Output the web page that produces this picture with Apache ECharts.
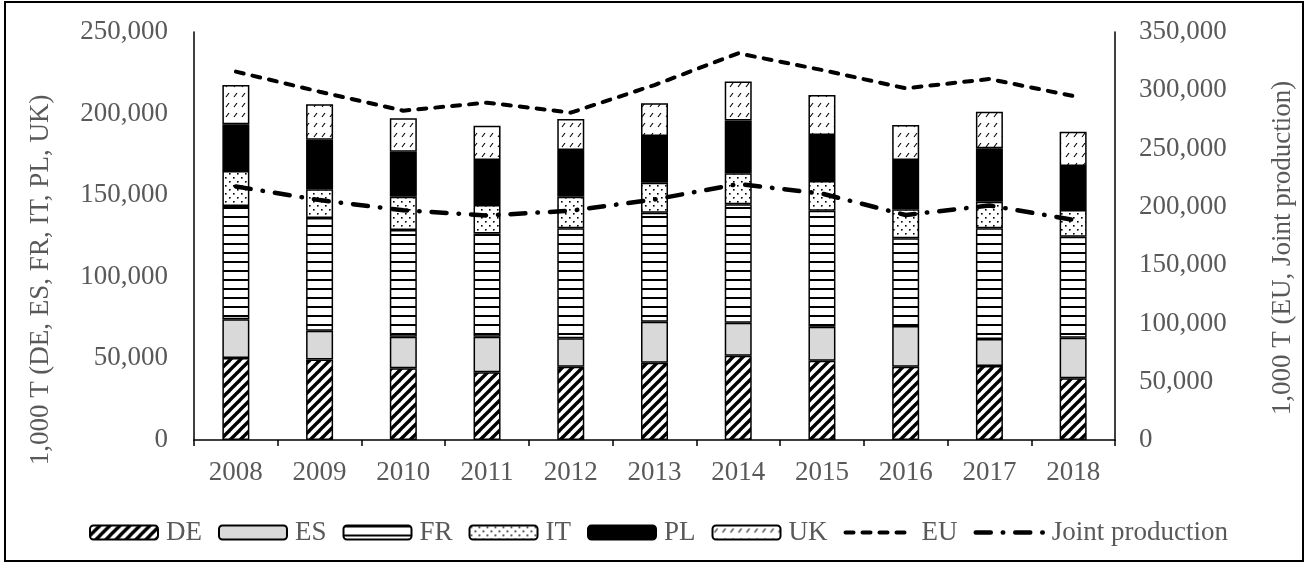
<!DOCTYPE html>
<html><head><meta charset="utf-8">
<script src="https://cdn.jsdelivr.net/npm/echarts@6/dist/echarts.min.js"></script>
<style>html,body{margin:0;padding:0;background:#fff}#c{width:1308px;height:564px}</style>
</head><body><div id="c"></div>
<script>
const years = ['2008','2009','2010','2011','2012','2013','2014','2015','2016','2017','2018'];
const DE = [50200, 49400, 43900, 41500, 44900, 47400, 51700, 48600, 44900, 45300, 37800];
const ES = [23800, 17600, 19400, 21800, 17400, 25100, 20200, 20800, 25000, 16600, 24900];
const FR = [69400, 69000, 65400, 63300, 67400, 66800, 72500, 71100, 53700, 67800, 61900];
const IT = [21400, 17600, 20400, 17400, 19400, 18400, 19000, 18200, 17800, 16300, 16300];
const PL = [28600, 30400, 27600, 27600, 28600, 28600, 32300, 28200, 30200, 32700, 27000];
const UK = [24100, 21700, 20400, 21000, 19000, 20000, 23900, 24500, 21400, 22500, 21000];
const EU = [316000, 298800, 282500, 289400, 280800, 304500, 331700, 317400, 301700, 309700, 295100];
const JOINT = [217500, 205800, 197100, 192600, 196700, 206300, 219600, 211400, 193000, 201200, 188900];

function pat(w, h, draw) {
  const c = document.createElement('canvas');
  c.width = w; c.height = h;
  const g = c.getContext('2d');
  g.fillStyle = '#fff'; g.fillRect(0, 0, w, h);
  g.fillStyle = '#000'; g.strokeStyle = '#000';
  draw(g);
  return { image: c, repeat: 'repeat' };
}
const pDE = pat(10, 10, g => {
  g.lineWidth = 3.4;
  [[-10, 10, 10, -10], [0, 10, 10, 0], [0, 20, 20, 0]].forEach(s => {
    g.beginPath(); g.moveTo(s[0], s[1]); g.lineTo(s[2], s[3]); g.stroke();
  });
});
const pFR = pat(4, 9, g => { g.fillRect(0, 0, 4, 2); });
const pIT = pat(8, 8, g => { g.fillRect(1, 1, 1.6, 1.6); g.fillRect(5, 5, 1.6, 1.6); });
const pUK = pat(8, 10, g => {
  g.lineWidth = 1.1;
  g.beginPath(); g.moveTo(2, 7); g.lineTo(5, 3); g.stroke();
});
const fontFam = 'Liberation Serif';
const txtCol = '#595959';
const fs = 27;
function fmt(v) { return v.toLocaleString('en-US'); }

function barSeries(name, data, fill) {
  return {
    name, type: 'bar', stack: 'all', data, barWidth: 27,
    itemStyle: { color: fill, borderColor: '#000', borderWidth: 1.5 },
    emphasis: { disabled: true }
  };
}
const euDash = [8, 9];
const jpDash = [15, 12, 0.5, 12];
const noSym = { color: 'rgba(0,0,0,0)', borderColor: 'rgba(0,0,0,0)', borderWidth: 0 };
const chart = echarts.init(document.getElementById('c'), null, { renderer: 'canvas' });
chart.setOption({
  animation: false,
  backgroundColor: '#fff',
  grid: { left: 194, right: 193, top: 32, bottom: 124, containLabel: false },
  legend: {
    left: 89, top: 519, padding: 0, itemWidth: 68, itemHeight: 14, itemGap: 16,
    textStyle: { fontFamily: fontFam, fontSize: fs, color: txtCol, padding: [0, 0, 0, 3] },
    data: ['DE', 'ES', 'FR', 'IT', 'PL', 'UK',
      { name: 'EU', itemStyle: noSym, lineStyle: { color: '#000', width: 4, type: euDash, cap: 'round' } },
      { name: 'Joint production', itemStyle: noSym, lineStyle: { color: '#000', width: 4.5, type: jpDash, cap: 'round' } }]
  },
  xAxis: {
    type: 'category', data: years,
    axisLine: { lineStyle: { color: '#000', width: 1.5 } },
    axisTick: { show: true, length: 6, lineStyle: { color: '#000', width: 1.5 } },
    axisLabel: { fontFamily: fontFam, fontSize: fs, color: txtCol, margin: 19 }
  },
  yAxis: [{
    type: 'value', min: 0, max: 250000, interval: 50000,
    axisLine: { show: true, lineStyle: { color: '#000', width: 1.5 } },
    axisTick: { show: false }, splitLine: { show: false },
    axisLabel: { fontFamily: fontFam, fontSize: fs, color: txtCol, margin: 26, formatter: fmt }
  }, {
    type: 'value', min: 0, max: 350000, interval: 50000, position: 'right',
    axisLine: { show: true, lineStyle: { color: '#000', width: 1.5 } },
    axisTick: { show: false }, splitLine: { show: false },
    axisLabel: { fontFamily: fontFam, fontSize: fs, color: txtCol, margin: 24, formatter: fmt }
  }],
  series: [
    barSeries('DE', DE, pDE),
    barSeries('ES', ES, '#d9d9d9'),
    barSeries('FR', FR, pFR),
    barSeries('IT', IT, pIT),
    barSeries('PL', PL, '#000'),
    barSeries('UK', UK, pUK),
    { name: 'EU', type: 'line', yAxisIndex: 1, data: EU, symbol: 'none',
      lineStyle: { color: '#000', width: 4, type: euDash, cap: 'round' }, itemStyle: { color: '#000' } },
    { name: 'Joint production', type: 'line', yAxisIndex: 1, data: JOINT, symbol: 'none',
      lineStyle: { color: '#000', width: 4.5, type: jpDash, cap: 'round' }, itemStyle: { color: '#000' } }
  ],
  graphic: [
    { type: 'rect', shape: { x: 5, y: 2, width: 1298, height: 559 }, style: { fill: null, stroke: '#000', lineWidth: 2 }, silent: true },
    { type: 'text', x: 41, y: 280, rotation: Math.PI / 2,
      style: { text: '1,000 T (DE, ES, FR, IT, PL, UK)', fontFamily: fontFam, fontSize: fs, fill: txtCol, align: 'center', verticalAlign: 'middle' } },
    { type: 'text', x: 1283, y: 248, rotation: Math.PI / 2,
      style: { text: '1,000 T (EU, Joint production)', fontFamily: fontFam, fontSize: fs, fill: txtCol, align: 'center', verticalAlign: 'middle' } }
  ]
});
</script></body></html>
